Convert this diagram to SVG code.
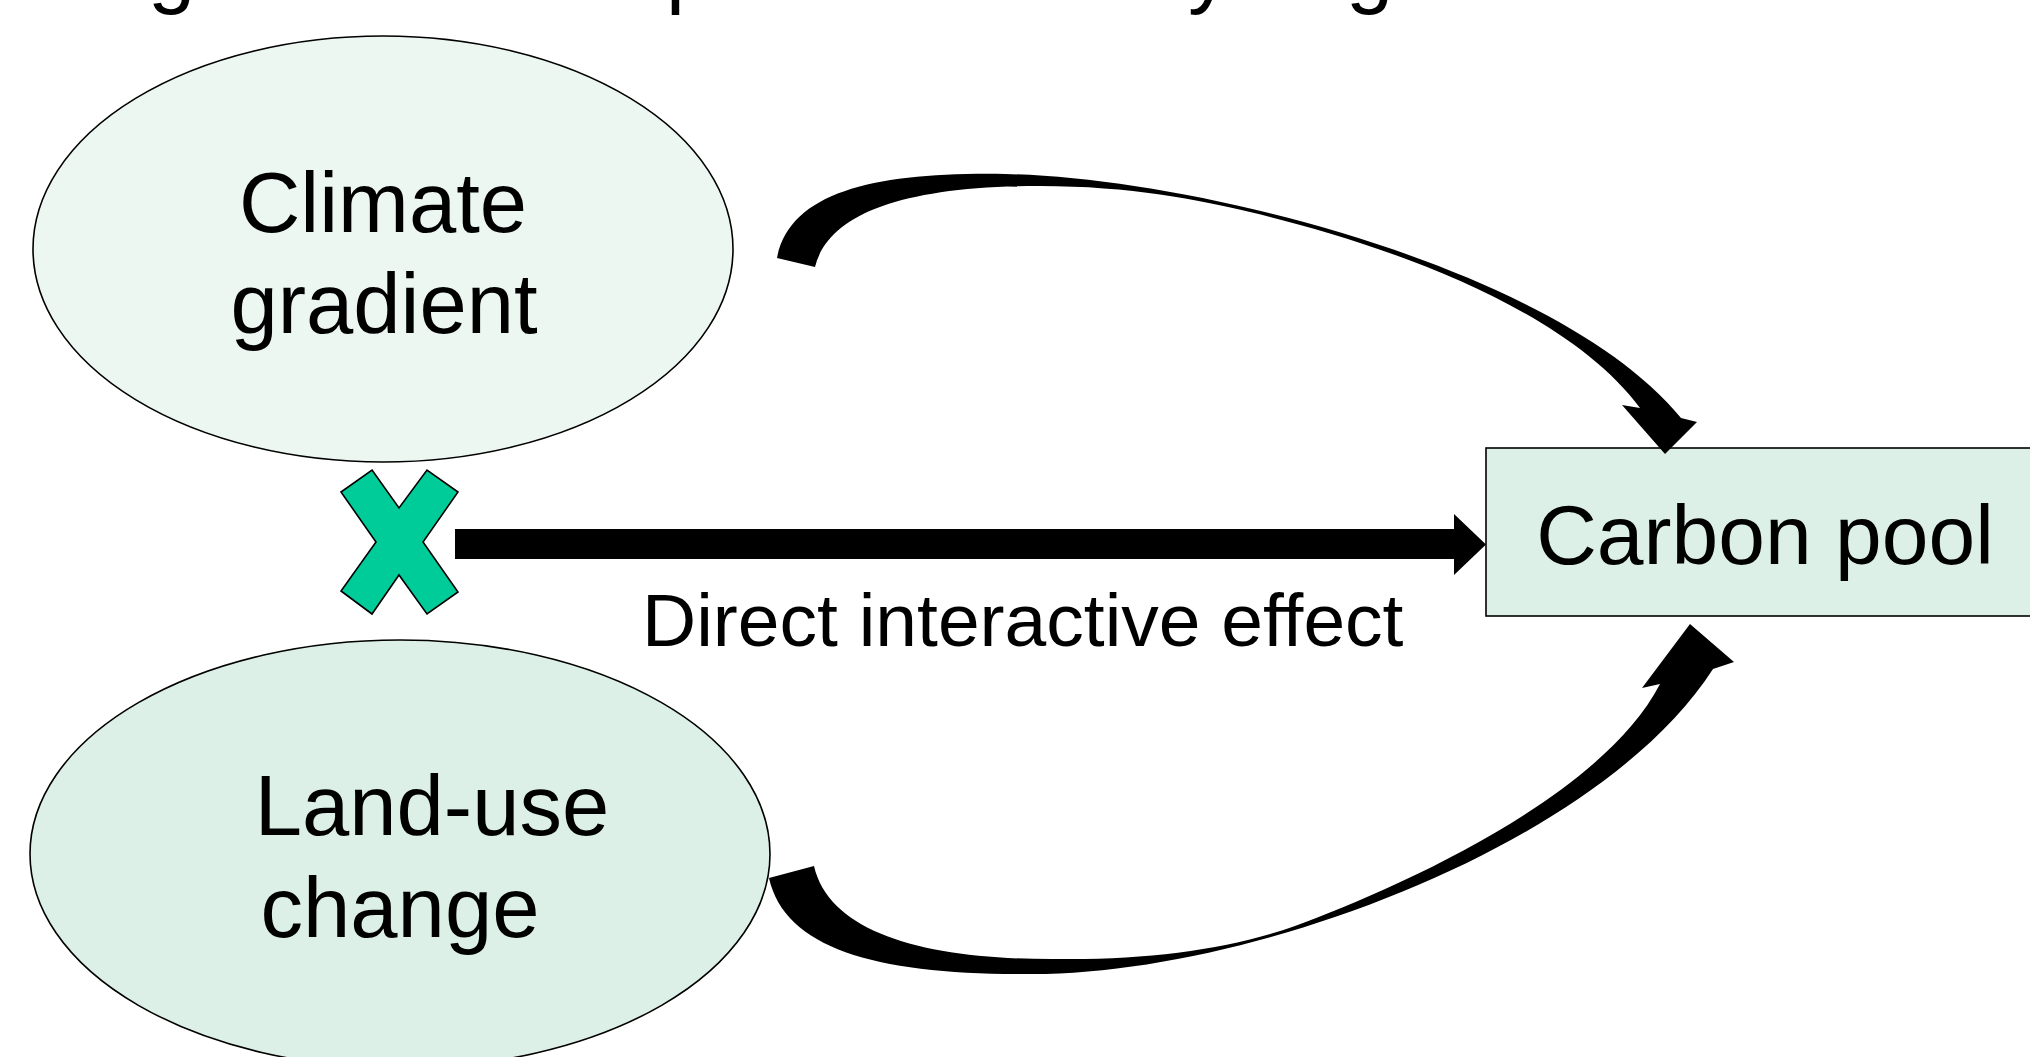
<svg xmlns="http://www.w3.org/2000/svg" width="2030" height="1057" viewBox="0 0 2030 1057">
  <style>
    .lbl { font-family: "Liberation Sans", Arial, sans-serif; font-size: 85px; fill: #000; }
    .edge { font-family: "Liberation Sans", Arial, sans-serif; font-size: 75px; fill: #000; }
    .node { stroke: #000; stroke-width: 1.6; }
    .conn { fill: #000; stroke: none; }
  </style>
  <rect x="0" y="0" width="2030" height="1057" fill="#ffffff"/>
  <g id="title" class="lbl">
    <text x="148" y="-3">g</text>
    <text x="666" y="-3">p</text>
    <text x="1188" y="-3">y</text>
    <text x="1346" y="-3">g</text>
  </g>
  <g id="node-climate">
    <ellipse class="node" cx="383" cy="249" rx="350" ry="213" fill="#EDF7F2"/>
    <text class="lbl" x="383" y="232" text-anchor="middle">Climate</text>
    <text class="lbl" x="384" y="333" text-anchor="middle">gradient</text>
  </g>
  <g id="node-landuse">
    <ellipse class="node" cx="400" cy="854" rx="370" ry="214" fill="#DCF0E7"/>
    <text class="lbl" x="432" y="835" text-anchor="middle">Land-use</text>
    <text class="lbl" x="400" y="937" text-anchor="middle">change</text>
  </g>
  <g id="node-carbon">
    <rect class="node" x="1486" y="448" width="600" height="168" fill="#DCF0E7"/>
    <text class="lbl" x="1765" y="564" text-anchor="middle" style="font-size:84px">Carbon pool</text>
  </g>
  <g id="node-interaction">
    <polygon class="node" fill="#00CC99" stroke-linejoin="miter" points="372,470 399,508 427,470 458,492 423,542 458,592 427,614 399,575 372,614 341,591 376,542 341,492"/>
  </g>
  <g id="connectors">
    <path id="edge-climate-carbon" class="conn" d="M777,258 C790,190 880,172 1005,174 C1200,178 1560,270 1681,418 L1697,422 L1665,454 L1622,405 L1640,408 C1560,300 1360,238 1250,212 C1200,200 1130,186 1040,186 C900,186 828,215 815,267 Z"/>
    <polygon id="edge-interaction-carbon" class="conn" points="455,529 1454,529 1454,514 1486,544.5 1454,575 1454,559 455,559"/>
    <path id="edge-landuse-carbon" class="conn" d="M769,878 C785,950 880,975 1030,974 C1250,975 1600,845 1713,669 L1734,662 L1690,624 L1642,688 L1660,684 C1600,800 1390,891 1295,926 C1230,949 1150,960 1059,959 C930,960 830,935 814,866 Z"/>
    <text class="edge" x="642" y="646">Direct interactive effect</text>
  </g>
</svg>
